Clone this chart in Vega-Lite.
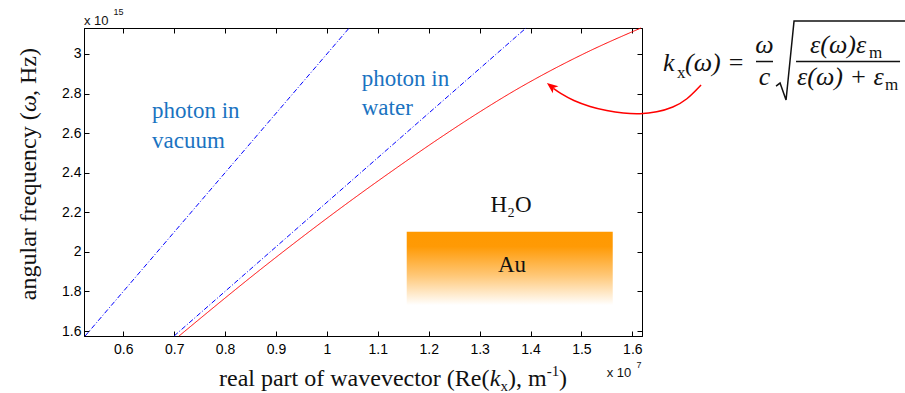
{
  "$schema": "https://vega.github.io/schema/vega-lite/v6.json",
  "width": 558,
  "height": 308,
  "autosize": {"type": "none"},
  "padding": {"left": 84, "top": 28, "right": 263, "bottom": 57},
  "background": "white",
  "config": {
    "view": {"stroke": "black", "strokeWidth": 1},
    "axis": {"domainColor": "black", "tickColor": "black", "labelColor": "black", "labelFont": "Liberation Sans", "labelFontSize": 14, "grid": false, "title": null, "tickSize": -5, "domainWidth": 1, "tickWidth": 1}
  },
  "resolve": {"axis": {"x": "independent", "y": "independent"}},
  "encoding": {
    "x": {"field": "k", "type": "quantitative", "scale": {"domain": [0.5228, 1.619], "nice": false, "zero": false}, "axis": null},
    "y": {"field": "w", "type": "quantitative", "scale": {"domain": [1.575, 3.131], "nice": false, "zero": false}, "axis": null}
  },
  "layer": [
    {
      "data": {"values": [
        {"s": "vacuum", "k": 0.525, "w": 1.575}, {"s": "vacuum", "k": 1.0437, "w": 3.131},
        {"s": "water", "k": 0.6998, "w": 1.575}, {"s": "water", "k": 1.3912, "w": 3.131},
        {"s": "spp", "k": 0.7095, "w": 1.575}, {"s": "spp", "k": 0.8784, "w": 1.929}, {"s": "spp", "k": 1.0454, "w": 2.256},
        {"s": "spp", "k": 1.1338, "w": 2.419}, {"s": "spp", "k": 1.2222, "w": 2.576}, {"s": "spp", "k": 1.3008, "w": 2.708},
        {"s": "spp", "k": 1.379, "w": 2.83}, {"s": "spp", "k": 1.4187, "w": 2.887}, {"s": "spp", "k": 1.5104, "w": 3.008},
        {"s": "spp", "k": 1.617, "w": 3.131}
      ]},
      "mark": {"type": "line", "strokeWidth": 1, "interpolate": "monotone"},
      "encoding": {
        "x": {"field": "k", "type": "quantitative", "scale": {"domain": [0.5228, 1.619], "nice": false, "zero": false},
              "axis": {"orient": "bottom", "values": [0.6, 0.7, 0.8, 0.9, 1, 1.1, 1.2, 1.3, 1.4, 1.5, 1.6], "format": "~g", "labelPadding": 11}},
        "y": {"field": "w", "type": "quantitative", "scale": {"domain": [1.575, 3.131], "nice": false, "zero": false},
              "axis": {"orient": "left", "values": [1.6, 1.8, 2, 2.2, 2.4, 2.6, 2.8, 3], "format": "~g", "labelPadding": 8}},
        "color": {"field": "s", "type": "nominal", "scale": {"domain": ["vacuum", "water", "spp"], "range": ["#0000FF", "#0000FF", "#FF0000"]}, "legend": null},
        "strokeDash": {"field": "s", "type": "nominal", "scale": {"domain": ["vacuum", "water", "spp"], "range": [[5, 2, 1, 2], [5, 2, 1, 2], [1, 0]]}, "legend": null}
      }
    },
    {
      "data": {"values": [{"k1": 1.1568, "k2": 1.5615, "w1": 2.1014, "w2": 1.731}]},
      "mark": {"type": "rect", "fill": {"gradient": "linear", "x1": 0, "y1": 0, "x2": 0, "y2": 1, "stops": [{"offset": 0, "color": "#FF9900"}, {"offset": 0.2, "color": "#FF9A05"}, {"offset": 0.6, "color": "#FFC878"}, {"offset": 1, "color": "#FFFFFF"}]}},
      "encoding": {
        "x": {"field": "k1", "type": "quantitative", "scale": {"domain": [0.5228, 1.619], "nice": false, "zero": false},
              "axis": {"orient": "top", "values": [0.6, 0.7, 0.8, 0.9, 1, 1.1, 1.2, 1.3, 1.4, 1.5, 1.6], "labels": false}},
        "x2": {"field": "k2"},
        "y": {"field": "w1", "type": "quantitative", "scale": {"domain": [1.575, 3.131], "nice": false, "zero": false},
              "axis": {"orient": "right", "values": [1.6, 1.8, 2, 2.2, 2.4, 2.6, 2.8, 3], "labels": false}},
        "y2": {"field": "w2"}
      }
    },
    {
      "data": {"values": [{"t": "H₂O", "k": 1.3617, "w": 2.2025}, {"t": "Au", "k": 1.3637, "w": 1.8992}]},
      "mark": {"type": "text", "font": "Liberation Serif", "fontSize": 23, "align": "center", "baseline": "alphabetic", "color": "#111111"},
      "encoding": {"text": {"field": "t"}}
    },
    {
      "data": {"values": [
        {"t": "photon in", "k": 0.6564, "w": 2.6786}, {"t": "vacuum", "k": 0.6564, "w": 2.5245},
        {"t": "photon in", "k": 1.0684, "w": 2.8378}, {"t": "water", "k": 1.0684, "w": 2.6938}
      ]},
      "mark": {"type": "text", "font": "Liberation Serif", "fontSize": 23, "align": "left", "baseline": "alphabetic", "color": "#1a73c1"},
      "encoding": {"text": {"field": "t"}}
    },
    {
      "data": {"values": [
        {"t": "k", "k": 1.6603, "w": 2.9137}, {"t": "(ω)", "k": 1.7035, "w": 2.9137},
        {"t": "ε(ω)ε", "k": 1.9491, "w": 3.0046}, {"t": "ε(ω) + ε", "k": 1.9236, "w": 2.8429}
      ]},
      "mark": {"type": "text", "font": "Liberation Serif", "fontStyle": "italic", "fontSize": 26, "align": "left", "baseline": "alphabetic", "color": "#111111"},
      "encoding": {"text": {"field": "t"}}
    },
    {
      "data": {"values": [{"t": "ω", "k": 1.8597, "w": 3.0046}, {"t": "c", "k": 1.8597, "w": 2.8429}]},
      "mark": {"type": "text", "font": "Liberation Serif", "fontStyle": "italic", "fontSize": 26, "align": "center", "baseline": "alphabetic", "color": "#111111"},
      "encoding": {"text": {"field": "t"}}
    },
    {
      "data": {"values": [{"t": "=", "k": 1.8037, "w": 2.9137}]},
      "mark": {"type": "text", "font": "Liberation Serif", "fontSize": 26, "align": "center", "baseline": "alphabetic", "color": "#111111"},
      "encoding": {"text": {"field": "t"}}
    },
    {
      "data": {"values": [{"t": "x", "k": 1.6878, "w": 2.8783}, {"t": "m", "k": 2.065, "w": 2.9794}, {"t": "m", "k": 2.0965, "w": 2.8176}]},
      "mark": {"type": "text", "font": "Liberation Serif", "fontSize": 17, "align": "left", "baseline": "alphabetic", "color": "#111111"},
      "encoding": {"text": {"field": "t"}}
    },
    {
      "data": {"values": [{"k1": 1.843, "k2": 1.8764, "w": 2.9617}, {"k1": 1.9216, "k2": 2.1259, "w": 2.9617}]},
      "mark": {"type": "rule", "color": "#111111", "strokeWidth": 1.5},
      "encoding": {
        "x": {"field": "k1", "type": "quantitative", "scale": {"domain": [0.5228, 1.619], "nice": false, "zero": false}, "axis": null},
        "x2": {"field": "k2"}
      }
    },
    {
      "data": {"values": [
        {"k": 1.8823, "w": 2.8378}, {"k": 1.8902, "w": 2.853}, {"k": 1.902, "w": 2.7671}, {"k": 1.9177, "w": 3.1664}, {"k": 2.1358, "w": 3.1664}
      ]},
      "mark": {"type": "line", "color": "#111111", "strokeWidth": 1.5, "strokeJoin": "miter"},
      "encoding": {}
    },
    {
      "data": {"values": [
        {"k": 1.735, "w": 2.8429}, {"k": 1.7069, "w": 2.7671}, {"k": 1.6806, "w": 2.7302}, {"k": 1.6479, "w": 2.7049},
        {"k": 1.6151, "w": 2.6963}, {"k": 1.5823, "w": 2.6999}, {"k": 1.5497, "w": 2.713}, {"k": 1.5169, "w": 2.7332},
        {"k": 1.4841, "w": 2.7635}, {"k": 1.458, "w": 2.801}, {"k": 1.4448, "w": 2.8262}
      ]},
      "mark": {"type": "line", "color": "#FF0000", "strokeWidth": 1.5, "interpolate": "basis"},
      "encoding": {}
    },
    {
      "data": {"values": [{"k": 1.4417, "w": 2.8343}]},
      "mark": {"type": "point", "shape": "M0,-1L0.75,0.8L0,0.35L-0.75,0.8Z", "filled": true, "color": "#FF0000", "opacity": 1, "size": 150, "angle": 308},
      "encoding": {}
    },
    {
      "data": {"values": [{"t": "x 10", "k": 0.5228, "w": 3.1462}, {"t": "x 10", "k": 1.5497, "w": 1.3686}]},
      "mark": {"type": "text", "font": "Liberation Sans", "fontSize": 13, "align": "left", "baseline": "alphabetic", "color": "#111111"},
      "encoding": {"text": {"field": "t"}}
    },
    {
      "data": {"values": [{"t": "15", "k": 0.5808, "w": 3.1942}, {"t": "7", "k": 1.6083, "w": 1.4125}]},
      "mark": {"type": "text", "font": "Liberation Sans", "fontSize": 9, "align": "left", "baseline": "alphabetic", "color": "#111111"},
      "encoding": {"text": {"field": "t"}}
    },
    {
      "data": {"values": [{"t": "real part of wavevector (Re(", "k": 0.788, "w": 1.3215}, {"t": "), m", "k": 1.3558, "w": 1.3215}, {"t": ")", "k": 1.456, "w": 1.3215}]},
      "mark": {"type": "text", "font": "Liberation Serif", "fontSize": 24, "align": "left", "baseline": "alphabetic", "color": "#111111"},
      "encoding": {"text": {"field": "t"}}
    },
    {
      "data": {"values": [{"t": "k", "k": 1.3197, "w": 1.3215}]},
      "mark": {"type": "text", "font": "Liberation Serif", "fontStyle": "italic", "fontSize": 24, "align": "left", "baseline": "alphabetic", "color": "#111111"},
      "encoding": {"text": {"field": "t"}}
    },
    {
      "data": {"values": [{"t": "x", "k": 1.3411, "w": 1.2963}, {"t": "-1", "k": 1.4318, "w": 1.3721}]},
      "mark": {"type": "text", "font": "Liberation Serif", "fontSize": 15, "align": "left", "baseline": "alphabetic", "color": "#111111"},
      "encoding": {"text": {"field": "t"}}
    },
    {
      "data": {"values": [{"t": "angular frequency (", "k": 0.4285, "w": 1.7562}, {"t": ", Hz)", "k": 0.4285, "w": 2.7873}]},
      "mark": {"type": "text", "font": "Liberation Serif", "fontSize": 24, "align": "left", "baseline": "alphabetic", "angle": 270, "color": "#111111"},
      "encoding": {"text": {"field": "t"}}
    },
    {
      "data": {"values": [{"t": "ω", "k": 0.4285, "w": 2.7064}]},
      "mark": {"type": "text", "font": "Liberation Serif", "fontStyle": "italic", "fontSize": 24, "align": "left", "baseline": "alphabetic", "angle": 270, "color": "#111111"},
      "encoding": {"text": {"field": "t"}}
    }
  ]
}
